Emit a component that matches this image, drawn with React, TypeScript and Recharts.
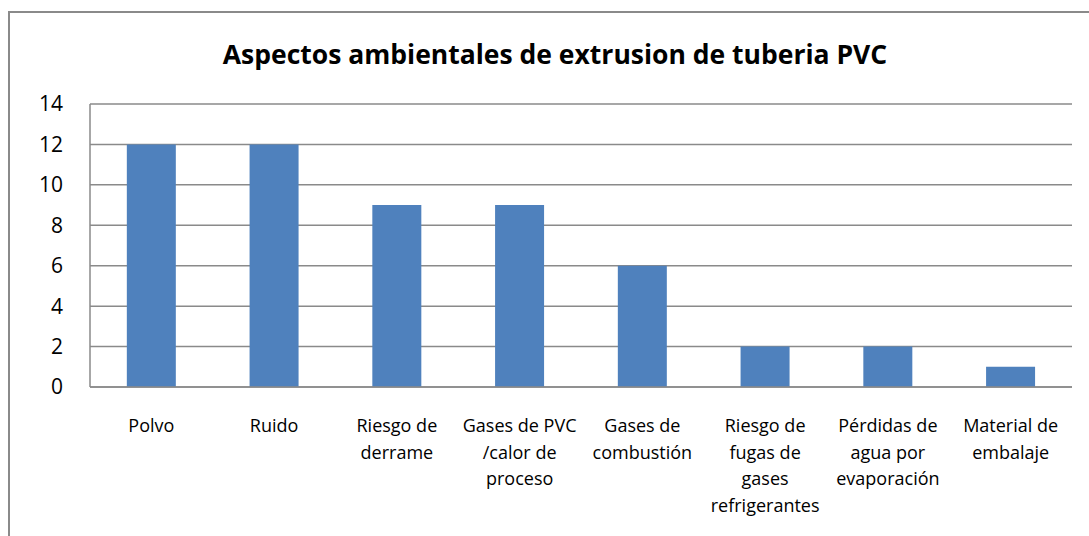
import { BarChart, Bar, XAxis, YAxis, CartesianGrid } from "recharts";

// categorias con saltos de linea como en el original
const categorias = [
  "Polvo",
  "Ruido",
  "Riesgo de\nderrame",
  "Gases de PVC\n/calor de\nproceso",
  "Gases de\ncombustión",
  "Riesgo de\nfugas de\ngases\nrefrigerantes",
  "Pérdidas de\nagua por\nevaporación",
  "Material de\nembalaje",
];
const valores = [12, 12, 9, 9, 6, 2, 2, 1];
const ticksY = [0, 2, 4, 6, 8, 10, 12, 14];

const data = categorias.map((c, i) => ({ name: c, value: valores[i] }));

const FONT = "'Open Sans', sans-serif";

const CategoryTick = (props: any) => {
  const { x, y, payload } = props;
  const lines = String(payload.value).split("\n");
  return (
    <g>
      {lines.map((l, i) => (
        <text
          key={i}
          x={x}
          y={y + 36 + i * 26.5}
          textAnchor="middle"
          dominantBaseline="central"
          fontSize={18}
          fontFamily={FONT}
          fill="#000"
        >
          {l}
        </text>
      ))}
    </g>
  );
};

export default function App() {
  return (
    <div
      style={{
        position: "absolute",
        left: 0,
        top: 0,
        width: 1089,
        height: 536,
        overflow: "hidden",
        background: "#fff",
      }}
    >
      <div
        style={{
          position: "absolute",
          left: 8,
          top: 11,
          width: 1100,
          height: 560,
          border: "2px solid #8a8a8a",
          boxSizing: "border-box",
        }}
      />
      <div
        style={{
          position: "absolute",
          left: 0,
          top: 36,
          width: 1110,
          textAlign: "center",
          fontFamily: FONT,
          fontWeight: 700,
          fontSize: 26.5,
          lineHeight: "36px",
          color: "#000",
        }}
      >
        Aspectos ambientales de extrusion de tuberia PVC
      </div>
      <div style={{ position: "absolute", left: 0, top: 0 }}>
        <BarChart
          width={1089}
          height={536}
          data={data}
          margin={{ top: 104, right: 17, bottom: 0, left: 0 }}
          barCategoryGap="30%"
        >
          <CartesianGrid
            vertical={false}
            stroke="#8a8a8a"
            strokeWidth={1.5}
          />
          <XAxis
            dataKey="name"
            tickLine={false}
            tickSize={0}
            axisLine={{ stroke: "#8a8a8a", strokeWidth: 1.5 }}
            interval={0}
            tick={<CategoryTick />}
            height={149}
          />
          <YAxis
            width={90}
            domain={[0, 14]}
            ticks={ticksY}
            interval={0}
            tickLine={false}
            tickSize={0}
            tickMargin={27}
            axisLine={{ stroke: "#8a8a8a", strokeWidth: 1.5 }}
            tick={{ fontSize: 21, fill: "#000", fontFamily: FONT }}
          />
          <Bar dataKey="value" fill="#4F81BD" isAnimationActive={false} />
        </BarChart>
      </div>
    </div>
  );
}
